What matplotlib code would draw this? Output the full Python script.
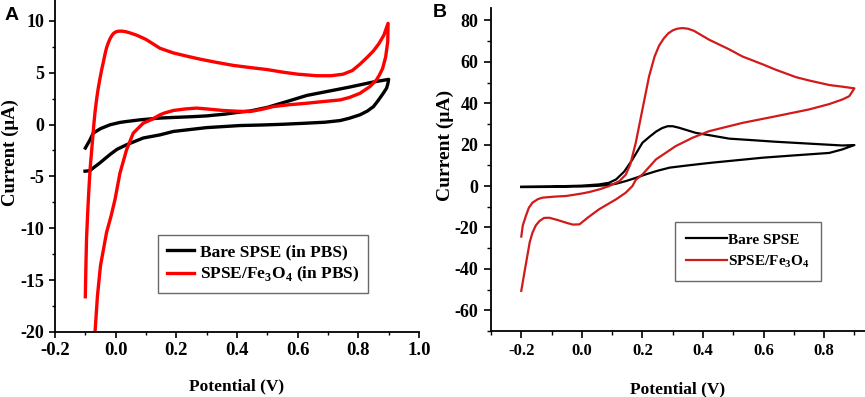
import matplotlib
matplotlib.use("Agg")
import matplotlib.pyplot as plt
from matplotlib.ticker import MultipleLocator

plt.rcParams['font.family'] = 'Liberation Serif'
plt.rcParams['font.weight'] = 'bold'
plt.rcParams['mathtext.fontset'] = 'custom'
plt.rcParams['mathtext.rm'] = 'Liberation Serif:bold'
plt.rcParams['mathtext.bf'] = 'Liberation Serif:bold'

# ---- panel A: in PBS ----
a_bare_x = [-0.100, -0.085, -0.074, -0.050, -0.019, 0.014, 0.036, 0.080, 0.146, 0.190, 0.250, 0.300,
            0.360, 0.410, 0.443, 0.500, 0.563, 0.630, 0.700, 0.770, 0.850, 0.880, 0.900,
            0.897, 0.893, 0.882, 0.865, 0.850, 0.830, 0.805, 0.770, 0.740, 0.690, 0.630, 0.550,
            0.480, 0.410, 0.300, 0.190, 0.146, 0.091, 0.036, 0.004, -0.019, -0.052, -0.070, -0.085, -0.101]
a_bare_y = [-2.27, -1.5, -0.83, -0.4, -0.03, 0.2, 0.29, 0.45, 0.62, 0.68, 0.75, 0.83,
            1.0, 1.2, 1.3, 1.65, 2.2, 2.8, 3.2, 3.6, 4.1, 4.25, 4.35,
            3.9, 3.5, 3.0, 2.3, 1.73, 1.3, 0.93, 0.6, 0.38, 0.22, 0.13, 0.02,
            -0.05, -0.1, -0.3, -0.67, -1.0, -1.3, -1.95, -2.4, -2.9, -3.7, -4.1, -4.45, -4.5]

a_fe_x = [-0.100, -0.099, -0.098, -0.096, -0.093, -0.090, -0.087, -0.084, -0.080, -0.076, -0.072,
          -0.068, -0.063, -0.058, -0.052, -0.046, -0.040, -0.035, -0.030, -0.024, -0.018, -0.012,
          -0.007, 0.000, 0.008, 0.020, 0.032, 0.045, 0.070, 0.100, 0.146, 0.190, 0.240, 0.278,
          0.330, 0.387, 0.440, 0.498, 0.550, 0.600, 0.663, 0.710, 0.750, 0.780, 0.805, 0.830,
          0.850, 0.868, 0.884, 0.898,
          0.897, 0.890, 0.880, 0.870, 0.860, 0.838, 0.805, 0.770, 0.740, 0.680, 0.630, 0.570,
          0.520, 0.480, 0.443, 0.400, 0.355, 0.300, 0.267, 0.230, 0.190, 0.160, 0.146, 0.120,
          0.091, 0.058, 0.036, 0.014, -0.002, -0.015, -0.030, -0.040, -0.050, -0.060, -0.068, -0.072]
a_fe_y = [-16.6, -15.0, -13.5, -11.0, -9.0, -7.2, -5.6, -4.2, -2.8, -1.4, 0.0,
          1.2, 2.4, 3.4, 4.4, 5.3, 6.1, 6.8, 7.4, 7.9, 8.3, 8.6,
          8.78, 8.92, 8.99, 9.0, 8.95, 8.85, 8.6, 8.2, 7.35, 6.9, 6.55, 6.3,
          6.0, 5.7, 5.5, 5.3, 5.05, 4.85, 4.7, 4.7, 4.85, 5.2, 5.8, 6.5,
          7.1, 7.8, 8.6, 9.75,
          8.0, 6.5, 5.4, 4.8, 4.3, 3.65, 3.0, 2.6, 2.37, 2.2, 2.05, 1.9,
          1.73, 1.45, 1.25, 1.28, 1.35, 1.5, 1.58, 1.5, 1.35, 1.1, 0.93, 0.5,
          0.13, -0.83, -2.43, -4.7, -7.2, -8.8, -10.4, -12.0, -13.6, -16.5, -20.0, -21.5]

# ---- panel B ----
b_bare_x = [-0.200, -0.100, 0.000, 0.057, 0.090, 0.113, 0.140, 0.167, 0.200, 0.225, 0.245, 0.265, 0.283,
            0.300, 0.320, 0.376, 0.420, 0.487, 0.560, 0.640, 0.750, 0.860, 0.900,
            0.860, 0.817, 0.700, 0.597, 0.500, 0.430, 0.387, 0.340, 0.290, 0.250, 0.210,
            0.175, 0.145, 0.115, 0.090, 0.050, 0.000, -0.100, -0.200]
b_bare_y = [-0.3, -0.2, 0.2, 0.8, 1.6, 3.2, 7.0, 12.8, 20.9, 24.0, 26.3, 28.0, 28.9,
            28.9, 28.2, 25.7, 24.6, 22.9, 22.2, 21.4, 20.5, 19.6, 19.8,
            17.7, 16.0, 14.8, 13.7, 12.3, 11.3, 10.6, 9.8, 8.9, 7.4, 5.6,
            3.8, 2.4, 1.2, 0.5, 0.1, -0.2, -0.4, -0.5]

b_fe_x = [-0.200, -0.195, -0.185, -0.175, -0.163, -0.145, -0.130, -0.090, -0.052, 0.000, 0.024,
          0.060, 0.090, 0.124, 0.145, 0.160, 0.178, 0.200, 0.222, 0.240, 0.255, 0.270, 0.285, 0.300,
          0.315, 0.332, 0.350, 0.370, 0.420, 0.487, 0.530, 0.597, 0.640, 0.707, 0.750, 0.817, 0.860, 0.900,
          0.883, 0.860, 0.817, 0.750, 0.640, 0.530, 0.420, 0.365, 0.310, 0.245, 0.200, 0.178,
          0.167, 0.145, 0.113, 0.057, 0.020, -0.008, -0.030, -0.052, -0.080, -0.108, -0.125,
          -0.140, -0.152, -0.163, -0.172, -0.180, -0.190, -0.200]
b_fe_y = [-24.4, -19.0, -14.5, -10.5, -8.0, -6.3, -5.6, -5.1, -4.8, -3.6, -2.9,
          -1.5, 0.0, 2.4, 5.5, 10.5, 20.9, 37.0, 53.0, 62.5, 67.8, 71.2, 73.7, 75.2,
          76.0, 76.3, 76.0, 75.0, 70.7, 66.0, 62.6, 58.8, 56.2, 52.6, 51.0, 48.8, 48.0, 47.2,
          43.4, 41.8, 39.6, 37.0, 33.7, 30.5, 26.5, 23.3, 19.3, 12.9, 5.6, 3.0,
          0.0, -3.2, -6.4, -11.2, -15.2, -18.5, -18.6, -17.7, -16.4, -15.3, -15.4,
          -16.9, -19.0, -22.5, -27.0, -33.7, -42.0, -50.6]


def style_axes(ax, xsize, ysize, ticklen):
    ax.spines['top'].set_visible(False)
    ax.spines['right'].set_visible(False)
    ax.spines['left'].set_linewidth(1.3)
    ax.spines['bottom'].set_linewidth(1.3)
    ax.tick_params(which='major', direction='out', length=ticklen, width=1.2)
    ax.tick_params(which='minor', direction='out', length=ticklen * 0.6, width=1.0)
    ax.tick_params(axis='x', labelsize=xsize)
    ax.tick_params(axis='y', labelsize=ysize)
    for lbl in ax.get_xticklabels() + ax.get_yticklabels():
        lbl.set_fontweight('bold')


fig = plt.figure(figsize=(8.65, 3.97), dpi=100)

# panel A
ax1 = fig.add_axes([55 / 865, 1 - 332 / 397, 364 / 865, 332 / 397])
ax1.plot(a_bare_x, a_bare_y, color='black', lw=2.4, label='Bare SPSE (in PBS)')
ax1.plot(a_fe_x, a_fe_y, color='#ff0000', lw=2.4, label='SPSE/Fe$_\\mathbf{3}$O$_\\mathbf{4}$ (in PBS)')
ax1.set_xlim(-0.2, 1.0)
ax1.set_ylim(-20, 12)
ax1.xaxis.set_minor_locator(MultipleLocator(0.1))
ax1.yaxis.set_minor_locator(MultipleLocator(2.5))
ax1.set_xticks([-0.2, 0.0, 0.2, 0.4, 0.6, 0.8, 1.0])
ax1.set_xticklabels(['-0.2', '0.0', '0.2', '0.4', '0.6', '0.8', '1.0'])
ax1.set_yticks([-20, -15, -10, -5, 0, 5, 10])
ax1.set_yticklabels(['-20', '-15', '-10', '-5', '0', '5', '10'])
style_axes(ax1, 13.5, 13, 4)
ax1.set_xlabel('Potential (V)', fontsize=12.5, fontweight='bold', labelpad=14)
ax1.set_ylabel('Current (μA)', fontsize=13.5, fontweight='bold')
ax1.yaxis.set_label_coords(-36 / 364, (332 - 153) / 332)
leg1 = ax1.legend(loc='lower left', bbox_to_anchor=(0.283, 0.117), borderaxespad=0, fontsize=12.5,
                  frameon=True, fancybox=False, edgecolor='#444444', handlelength=1.6,
                  handletextpad=0.3, borderpad=0.5, labelspacing=0.3)
leg1.get_frame().set_linewidth(1.0)
fig.text(5 / 865, 1 - 20 / 397, 'A', fontsize=14, fontweight='bold', family='Liberation Sans')

# panel B
ax2 = fig.add_axes([491 / 865, 1 - 331 / 397, 374 / 865, 323 / 397])
ax2.plot(b_bare_x, b_bare_y, color='black', lw=1.6, label='Bare SPSE')
ax2.plot(b_fe_x, b_fe_y, color='#d11a1a', lw=1.6, label='SPSE/Fe$_\\mathbf{3}$O$_\\mathbf{4}$')
ax2.set_xlim(-0.3, 0.935)
ax2.set_ylim(-70, 86)
ax2.set_xticks([-0.2, 0.0, 0.2, 0.4, 0.6, 0.8])
ax2.set_xticklabels(['-0.2', '0.0', '0.2', '0.4', '0.6', '0.8'])
ax2.xaxis.set_minor_locator(MultipleLocator(0.1))
ax2.set_yticks([-60, -40, -20, 0, 20, 40, 60, 80])
ax2.set_yticklabels(['-60', '-40', '-20', '0', '20', '40', '60', '80'])
ax2.yaxis.set_minor_locator(MultipleLocator(10))
style_axes(ax2, 12, 13, 5)
ax2.tick_params(axis='y', pad=4)
ax2.set_xlabel('Potential (V)', fontsize=12.5, fontweight='bold', labelpad=16)
ax2.set_ylabel('Current (μA)', fontsize=14, fontweight='bold')
ax2.yaxis.set_label_coords(-37 / 374, (331 - 145) / 323)
leg2 = ax2.legend(loc='lower left', bbox_to_anchor=(0.492, 0.155), borderaxespad=0, fontsize=11,
                  frameon=True, fancybox=False, edgecolor='#444444', handlelength=2.7,
                  handletextpad=0.1, borderpad=0.7, labelspacing=0.45)
leg2.get_frame().set_linewidth(1.0)
fig.text(433 / 865, 1 - 17 / 397, 'B', fontsize=14, fontweight='bold', family='Liberation Sans')

fig.savefig('out.png', dpi=100)
